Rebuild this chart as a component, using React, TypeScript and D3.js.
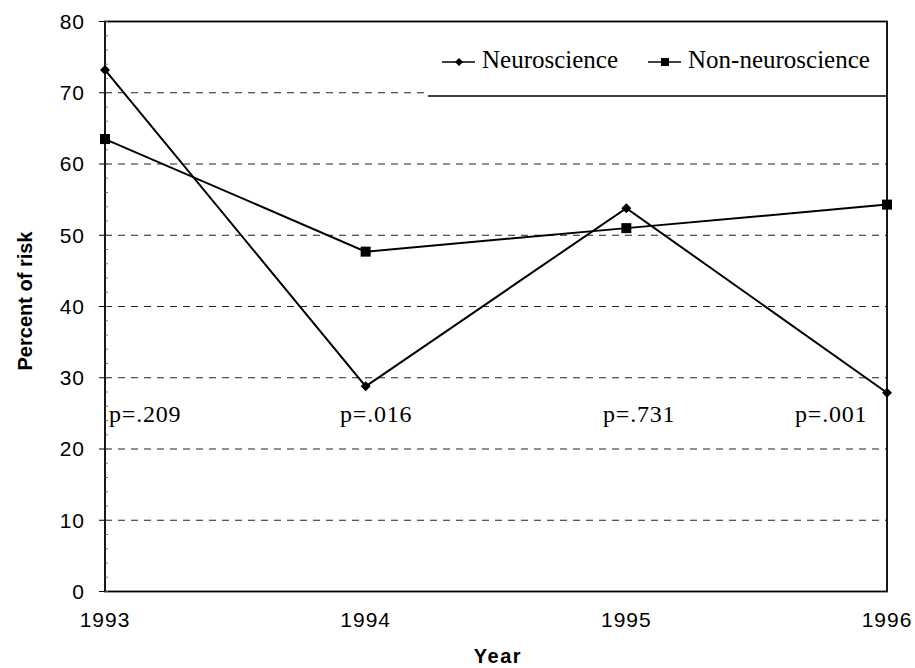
import React from "react";
import * as d3 from "d3";

const years = [1993, 1994, 1995, 1996];
const neuroscience = [73.2, 28.8, 53.8, 27.9];
const nonNeuroscience = [63.5, 47.7, 51.0, 54.3];
const pLabels = ["p=.209", "p=.016", "p=.731", "p=.001"];
const yTicks = [0, 10, 20, 30, 40, 50, 60, 70, 80];
const seriesNames = ["Neuroscience", "Non-neuroscience"];

const W = 915;
const H = 668;
const left = 105;
const right = 887;
const top = 21.5;
const bottom = 591.5;

export default function App() {
  const x = d3.scaleLinear().domain([1993, 1996]).range([left, right]);
  const y = d3.scaleLinear().domain([0, 80]).range([bottom, top]);
  const line = d3
    .line<number>()
    .x((_, i) => x(years[i]))
    .y((d) => y(d));
  const minor = d3.range(0, 80.01, 2);
  const serif = "'Liberation Serif', 'Times New Roman', serif";
  const sans = "'Liberation Sans', Arial, sans-serif";

  const diamond = (cx: number, cy: number, r: number, key: string) => (
    <path
      key={key}
      d={`M${cx},${cy - r}L${cx + r},${cy}L${cx},${cy + r}L${cx - r},${cy}Z`}
      fill="#000"
    />
  );
  const square = (cx: number, cy: number, s: number, key: string) => (
    <rect key={key} x={cx - s / 2} y={cy - s / 2} width={s} height={s} fill="#000" />
  );

  const legendY = 62;
  const leg1x = 442;
  const leg2x = 648;
  const pXs = [109, 340, 603, 795];

  return (
    <svg
      width={W}
      height={H}
      style={{ position: "absolute", left: 0, top: 0, background: "#fff" }}
    >
      <rect x={0} y={0} width={W} height={H} fill="#fff" />
      {/* gridlines */}
      {yTicks
        .filter((t) => t > 0 && t < 80)
        .map((t) => (
          <line
            key={"g" + t}
            x1={left}
            x2={right}
            y1={y(t)}
            y2={y(t)}
            stroke="#222"
            strokeWidth={1}
            strokeDasharray="7,6"
          />
        ))}
      {/* legend box */}
      <rect x={428} y={top} width={right - 428} height={96 - top} fill="#fff" />
      <line x1={428} x2={right} y1={96} y2={96} stroke="#000" strokeWidth={1.5} />
      {/* plot frame */}
      <rect
        x={left}
        y={top}
        width={right - left}
        height={bottom - top}
        fill="none"
        stroke="#000"
        strokeWidth={1.8}
      />
      {/* major ticks */}
      {yTicks.map((t) => (
        <line key={"t" + t} x1={left - 6} x2={left} y1={y(t)} y2={y(t)} stroke="#000" strokeWidth={1} />
      ))}
      {/* minor ticks */}
      {minor.map((t) => (
        <line key={"m" + t} x1={left} x2={left + 3} y1={y(t)} y2={y(t)} stroke="#555" strokeWidth={0.8} />
      ))}
      {/* y tick labels */}
      {yTicks.map((t) => (
        <text
          key={"yl" + t}
          x={85}
          y={y(t)}
          dy="0.35em"
          textAnchor="end"
          fontFamily={sans}
          fontSize={21}
          letterSpacing={1}
          fill="#000"
        >
          {t}
        </text>
      ))}
      {/* x tick labels */}
      {years.map((yr) => (
        <text
          key={"xl" + yr}
          x={x(yr)}
          y={627}
          textAnchor="middle"
          fontFamily={sans}
          fontSize={21}
          letterSpacing={1}
          fill="#000"
        >
          {yr}
        </text>
      ))}
      <text
        x={498}
        y={663}
        textAnchor="middle"
        fontFamily={sans}
        fontSize={20}
        fontWeight="bold"
        letterSpacing={1.5}
      >
        Year
      </text>
      <text
        transform={`translate(32,301) rotate(-90)`}
        textAnchor="middle"
        fontFamily={sans}
        fontSize={20}
        fontWeight="bold"
      >
        Percent of risk
      </text>
      {/* lines */}
      <path d={line(neuroscience) || ""} fill="none" stroke="#000" strokeWidth={2} />
      <path d={line(nonNeuroscience) || ""} fill="none" stroke="#000" strokeWidth={2} />
      {neuroscience.map((v, i) => diamond(x(years[i]), y(v), 5, "nd" + i))}
      {nonNeuroscience.map((v, i) => square(x(years[i]), y(v), 10, "ns" + i))}
      {/* p labels */}
      {pLabels.map((p, i) => (
        <text
          key={p}
          x={pXs[i]}
          y={422}
          fontFamily={serif}
          fontSize={24}
          letterSpacing={0.8}
          fill="#000"
        >
          {p}
        </text>
      ))}
      {/* legend */}
      <line x1={leg1x} x2={leg1x + 33} y1={legendY} y2={legendY} stroke="#000" strokeWidth={1.5} />
      {diamond(leg1x + 17, legendY, 4, "ld")}
      <text x={leg1x + 40} y={legendY + 6} fontFamily={serif} fontSize={25}>
        {seriesNames[0]}
      </text>
      <line x1={leg2x} x2={leg2x + 33} y1={legendY} y2={legendY} stroke="#000" strokeWidth={1.5} />
      {square(leg2x + 17, legendY, 8, "ls")}
      <text x={leg2x + 40} y={legendY + 6} fontFamily={serif} fontSize={25}>
        {seriesNames[1]}
      </text>
    </svg>
  );
}
